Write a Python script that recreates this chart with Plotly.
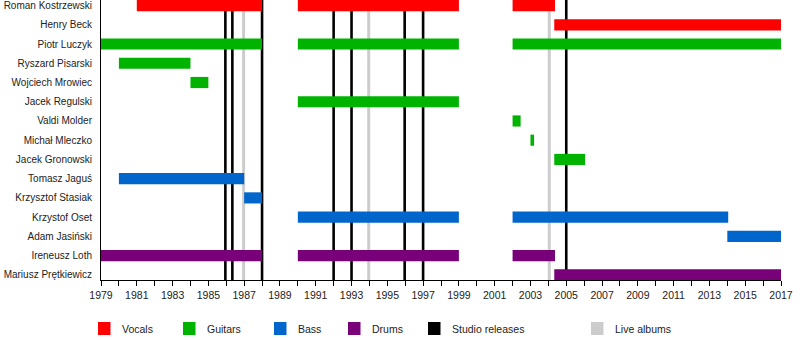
import plotly.graph_objects as go

# ---- data ----
members = ["Roman Kostrzewski", "Henry Beck", "Piotr Luczyk", "Ryszard Pisarski",
           "Wojciech Mrowiec", "Jacek Regulski", "Valdi Molder", "Michał Mleczko",
           "Jacek Gronowski", "Tomasz Jaguś", "Krzysztof Stasiak", "Krzystof Oset",
           "Adam Jasiński", "Ireneusz Loth", "Mariusz Prętkiewicz"]

roles = ["Vocals", "Guitars", "Bass", "Drums"]
role_colors = ["#ff0000", "#00b300", "#0066cc", "#780078"]

bar_member = ["Roman Kostrzewski", "Roman Kostrzewski", "Roman Kostrzewski",
              "Henry Beck",
              "Piotr Luczyk", "Piotr Luczyk", "Piotr Luczyk",
              "Ryszard Pisarski", "Wojciech Mrowiec", "Jacek Regulski",
              "Valdi Molder", "Michał Mleczko", "Jacek Gronowski",
              "Tomasz Jaguś", "Krzysztof Stasiak",
              "Krzystof Oset", "Krzystof Oset", "Adam Jasiński",
              "Ireneusz Loth", "Ireneusz Loth", "Ireneusz Loth",
              "Mariusz Prętkiewicz"]
bar_role = ["Vocals", "Vocals", "Vocals",
            "Vocals",
            "Guitars", "Guitars", "Guitars",
            "Guitars", "Guitars", "Guitars",
            "Guitars", "Guitars", "Guitars",
            "Bass", "Bass",
            "Bass", "Bass", "Bass",
            "Drums", "Drums", "Drums",
            "Drums"]
bar_start = [1981.0, 1990.0, 2002.0,
             2004.33,
             1979.0, 1990.0, 2002.0,
             1980.0, 1984.0, 1990.0,
             2002.0, 2003.0, 2004.33,
             1980.0, 1987.0,
             1990.0, 2002.0, 2014.0,
             1979.0, 1990.0, 2002.0,
             2004.33]
bar_end = [1988.0, 1999.0, 2004.37,
           2017.0,
           1988.0, 1999.0, 2017.0,
           1984.0, 1985.0, 1999.0,
           2002.45, 2003.2, 2006.05,
           1987.0, 1988.0,
           1999.0, 2014.05, 2017.0,
           1988.0, 1999.0, 2004.37,
           2017.0]

studio_releases = [1985.95, 1986.34, 1988.0, 1992.0, 1993.0, 1995.97, 1997.0, 2005.0]
live_albums = [1986.97, 1993.96, 2004.05]

legend_labels = ["Vocals", "Guitars", "Bass", "Drums", "Studio releases", "Live albums"]
legend_colors = role_colors + ["#000000", "#cccccc"]

# ---- layout geometry (pixels) ----
W, H = 800, 340
L, R, T, B = 101, 19, 0, 60
PW, PH = W - L - R, H - T - B
legend_px = [98, 183, 274, 348, 428, 591]
FS = 10

fig = go.Figure()
for role, col in zip(roles, role_colors):
    ys = [m for m, r in zip(bar_member, bar_role) if r == role]
    s = [a for a, r in zip(bar_start, bar_role) if r == role]
    e = [b for b, r in zip(bar_end, bar_role) if r == role]
    fig.add_trace(go.Bar(
        y=ys, x=[b - a for a, b in zip(s, e)], base=s, orientation="h",
        marker=dict(color=col, line=dict(width=0)), width=0.58,
        showlegend=False, hoverinfo="skip"))

for xv in studio_releases:
    fig.add_shape(type="line", xref="x", yref="paper", x0=xv, x1=xv, y0=0, y1=1,
                  line=dict(color="#000000", width=2.6), layer="below")
for xv in live_albums:
    fig.add_shape(type="line", xref="x", yref="paper", x0=xv, x1=xv, y0=0, y1=1,
                  line=dict(color="#cccccc", width=3), layer="below")

# custom legend
for lab, col, px in zip(legend_labels, legend_colors, legend_px):
    x0 = (px - L) / PW
    x1 = (px + 12.5 - L) / PW
    y0 = (H - B - 335) / PH
    y1 = (H - B - 322) / PH
    fig.add_shape(type="rect", xref="paper", yref="paper", x0=x0, x1=x1, y0=y0, y1=y1,
                  fillcolor=col, line=dict(width=0))
    fig.add_annotation(xref="paper", yref="paper", x=(px + 22 - L) / PW,
                       y=(H - B - 329) / PH, text=lab, showarrow=False,
                       xanchor="left", yanchor="middle",
                       font=dict(size=10.5, color="#222222"))

fig.update_layout(
    width=W, height=H, margin=dict(l=L, r=R, t=T, b=B),
    paper_bgcolor="white", plot_bgcolor="white",
    font=dict(family="Liberation Sans, Arial, sans-serif", size=FS, color="#222222"),
    barmode="overlay", showlegend=False,
    xaxis=dict(range=[1979, 2017], tick0=1979, dtick=2, ticks="outside", ticklen=5,
               tickcolor="#000", tickwidth=1, showgrid=False, zeroline=False,
               showline=True, linecolor="#000", linewidth=1, automargin=False,
               minor=dict(dtick=1, tick0=1979, ticks="outside", ticklen=5,
                          tickcolor="#000", showgrid=False),
               tickfont=dict(size=10.5, color="#222222")),
    yaxis=dict(type="category", categoryorder="array", categoryarray=members,
               range=[14.27, -0.29], showgrid=False, zeroline=False, automargin=False,
               showline=True, linecolor="#000", linewidth=1, ticks="",
               ticklabelstandoff=6, tickfont=dict(size=FS, color="#222222")),
)

fig.write_html("out.html")
